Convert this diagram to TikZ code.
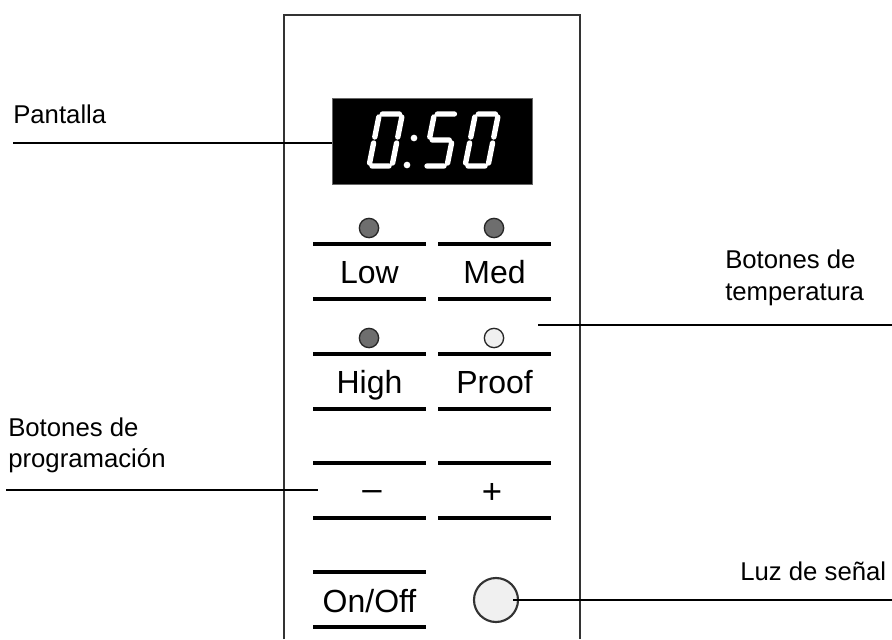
\documentclass[tikz,border=0pt]{standalone}
\usepackage{fontspec}
\setmainfont{Liberation Sans}
\usetikzlibrary{calc}
\definecolor{ledgray}{HTML}{6E6E6E}
\definecolor{ledoff}{HTML}{F0F0F0}
\begin{document}
\begin{tikzpicture}[x=0.75pt,y=-0.75pt,
  panelline/.style={line width=1.2pt, draw=black!80},
  btnline/.style={line width=2.3pt},
  leader/.style={line width=2.1pt},
  btntext/.style={font=\fontsize{24}{28}\selectfont, inner sep=0pt, anchor=base},
  btnsym/.style={font=\fontsize{26}{30}\selectfont, inner sep=0pt, anchor=base},
  lbl/.style={font=\fontsize{19.3}{24}\selectfont, inner sep=0pt, anchor=base west},
  led/.style={circle, draw=black!85, line width=1pt, fill=ledgray, minimum size=14.5pt, inner sep=0pt},
  ledoffst/.style={led, fill=ledoff},
  sigl/.style={circle, draw=black!80, line width=1.6pt, fill=ledoff, minimum size=33pt, inner sep=0pt},
  displaybox/.style={rectangle, fill=black, draw=black!60, line width=0.6pt, minimum width=150pt, minimum height=64.5pt, inner sep=0pt},
  seg/.style={draw=white, line width=4pt, line cap=round}
]
\useasboundingbox (0,0) rectangle (892,639);
\clip (0,0) rectangle (892,639);

% panel
\draw[panelline] (284,639) -- (284,15) -- (580,15) -- (580,639);

% display
\node[displaybox] (disp) at (432,141) {};
\begin{scope}[shift={(369,166)}, x=0.75pt, y=0.75pt, xslant=0.2]
  \draw[seg] (3,52)--(20,52) (23,49)--(23,29) (23,23)--(23,3) (3,0)--(20,0) (0,3)--(0,23) (0,29)--(0,49);
\end{scope}
\begin{scope}[shift={(424,166)}, x=0.75pt, y=0.75pt, xslant=0.2]
  \draw[seg] (3,52)--(20,52) (0,29)--(0,49) (3,26)--(20,26) (23,23)--(23,3) (3,0)--(20,0);
\end{scope}
\begin{scope}[shift={(465,166)}, x=0.75pt, y=0.75pt, xslant=0.2]
  \draw[seg] (3,52)--(20,52) (23,49)--(23,29) (23,23)--(23,3) (3,0)--(20,0) (0,3)--(0,23) (0,29)--(0,49);
\end{scope}
\fill[white] (414,138) circle[radius=2.5pt];
\fill[white] (407,165) circle[radius=2.5pt];

% LEDs
\node[led] (ledLow) at (369,228) {};
\node[led] (ledMed) at (494,228) {};
\node[led] (ledHigh) at (369,338) {};
\node[ledoffst] (ledProof) at (494,338) {};

% button lines
\foreach \yy in {244,299,354,409,463,518} {
  \draw[btnline] (313,\yy) -- (426,\yy);
  \draw[btnline] (438,\yy) -- (551,\yy);
}
\draw[btnline] (313,572) -- (426,572);
\draw[btnline] (313,627) -- (426,627);

% button texts
\node[btntext] (low) at (369.5,283) {Low};
\node[btntext] (med) at (494.5,283) {Med};
\node[btntext] (high) at (369.5,393) {High};
\node[btntext] (proof) at (494.5,393) {Proof};
\node[btnsym] (minus) at (372,500) {–};
\node[btnsym] (plus) at (492,503) {+};
\node[btntext] (onoff) at (369.5,612) {On/Off};

% signal light
\node[sigl] (sig) at (496,600) {};

% labels
\node[lbl] (lblPant) at (13,123) {Pantalla};
\node[lbl] (lblTempA) at (725,268) {Botones de};
\node[lbl] (lblTempB) at (725,300) {temperatura};
\node[lbl] (lblProgA) at (8,436) {Botones de};
\node[lbl] (lblProgB) at (8,467) {programación};
\node[lbl] (lblLuz) at (740,580) {Luz de señal};

% leader lines
\coordinate (pantStart) at (13,143);
\draw[leader] (pantStart) -- (pantStart -| disp.west);
\coordinate (tempStart) at (538,325);
\coordinate (tempEnd) at (892,325);
\draw[leader] (tempStart) -- (tempEnd);
\coordinate (progStart) at (6,490);
\coordinate (progEnd) at (318,490);
\draw[leader] (progStart) -- (progEnd);
\coordinate (sigEnd) at (892,600);
\draw[leader] ($(sig.center)+(17,0)$) -- (sigEnd);
\end{tikzpicture}
\end{document}
